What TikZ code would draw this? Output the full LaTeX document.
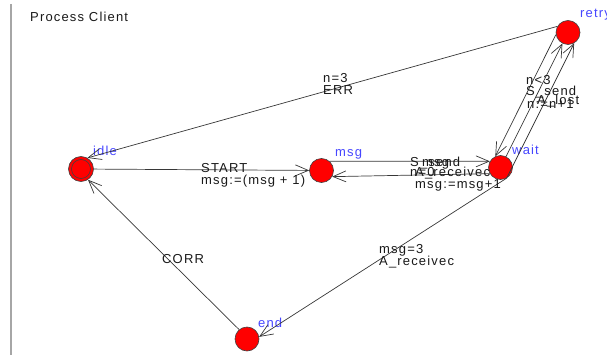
\documentclass[tikz,border=0pt]{standalone}
\usepackage{fontspec}
\setmainfont{Liberation Sans}[LetterSpace=9]
\usetikzlibrary{arrows.meta}
\definecolor{locblue}{RGB}{70,70,255}
\definecolor{edgegray}{RGB}{55,55,55}
\begin{document}
\begin{tikzpicture}[x=1pt,y=-1pt,
  loc/.style={circle, minimum size=24pt, inner sep=0pt, fill=red, draw=black!75, line width=0.6pt},
  innerring/.style={circle, minimum size=19pt, inner sep=0pt, draw=black!75, line width=0.6pt},
  edge/.style={draw=edgegray, line width=0.7pt, -{Straight Barb[length=13pt,width=11pt]}},
  lbl/.style={anchor=base west, inner sep=0pt, text=black!90, font=\fontsize{13}{15}\selectfont},
  locname/.style={lbl, text=locblue}]
\useasboundingbox (0,0) rectangle (607,358);
% frame edge
\coordinate (ftop) at (11,4);
\coordinate (fbot) at (11,355);
\draw[black!35, line width=1.2pt] (ftop) -- (fbot);
\node[lbl] (title) at (30,22) {Process Client};
% locations
\node[loc, minimum size=25pt] (idle) at (81,169) {};
\node[innerring] (idlein) at (idle.center) {};
\node[loc] (msg) at (321.5,170.5) {};
\node[loc] (wait) at (500.5,167.5) {};
\node[loc] (retry) at (568,32.5) {};
\node[loc] (end) at (247,339) {};
% location names
\node[locname] (nidle) at (93,156) {idle};
\node[locname] (nmsg) at (335,157) {msg};
\node[locname] (nwait) at (512,155) {wait};
\node[locname] (nretry) at (580,18) {retry};
\node[locname] (nend) at (258,327) {end};
% edges
\draw[edge] (retry.150) -- (idle.60);
\draw[edge] (idle) -- (msg);
\draw[edge] (msg.49) -- (wait.150);
\draw[edge] (wait.210) -- (msg.-30);
\draw[edge] (retry.190) -- (wait.115);
\draw[edge] (wait.63) -- (retry.243);
\draw[edge] (wait.-60) -- (retry.-60);
\draw[edge] (wait.-60) -- (end.10);
\draw[edge] (end.130) -- (idle.-57);
% edge labels
\node[lbl] (l1) at (323,83) {n=3};
\node[lbl] (l2) at (323,95) {ERR};
\node[lbl] (l3) at (201,173) {START};
\node[lbl] (l4) at (201,185) {msg:=(msg + 1)};
\node[lbl] (l5) at (410,167) {S\_send};
\node[lbl] (l6) at (422,167) {msg};
\node[lbl] (l7) at (410,176) {n=0};
\node[lbl] (l8) at (415,177) {A\_receivec};
\node[lbl] (l9) at (415,188) {msg:=msg+1};
\node[lbl] (l10) at (379,253) {msg=3};
\node[lbl] (l11) at (379,265) {A\_receivec};
\node[lbl] (l12) at (162,263) {CORR};
\node[lbl] (l13) at (526,85) {n<3};
\node[lbl] (l14) at (526,96) {S\_send};
\node[lbl] (l15) at (527,109) {n:=n+1};
\node[lbl] (l16) at (537,105) {A\_lost};
\end{tikzpicture}
\end{document}
